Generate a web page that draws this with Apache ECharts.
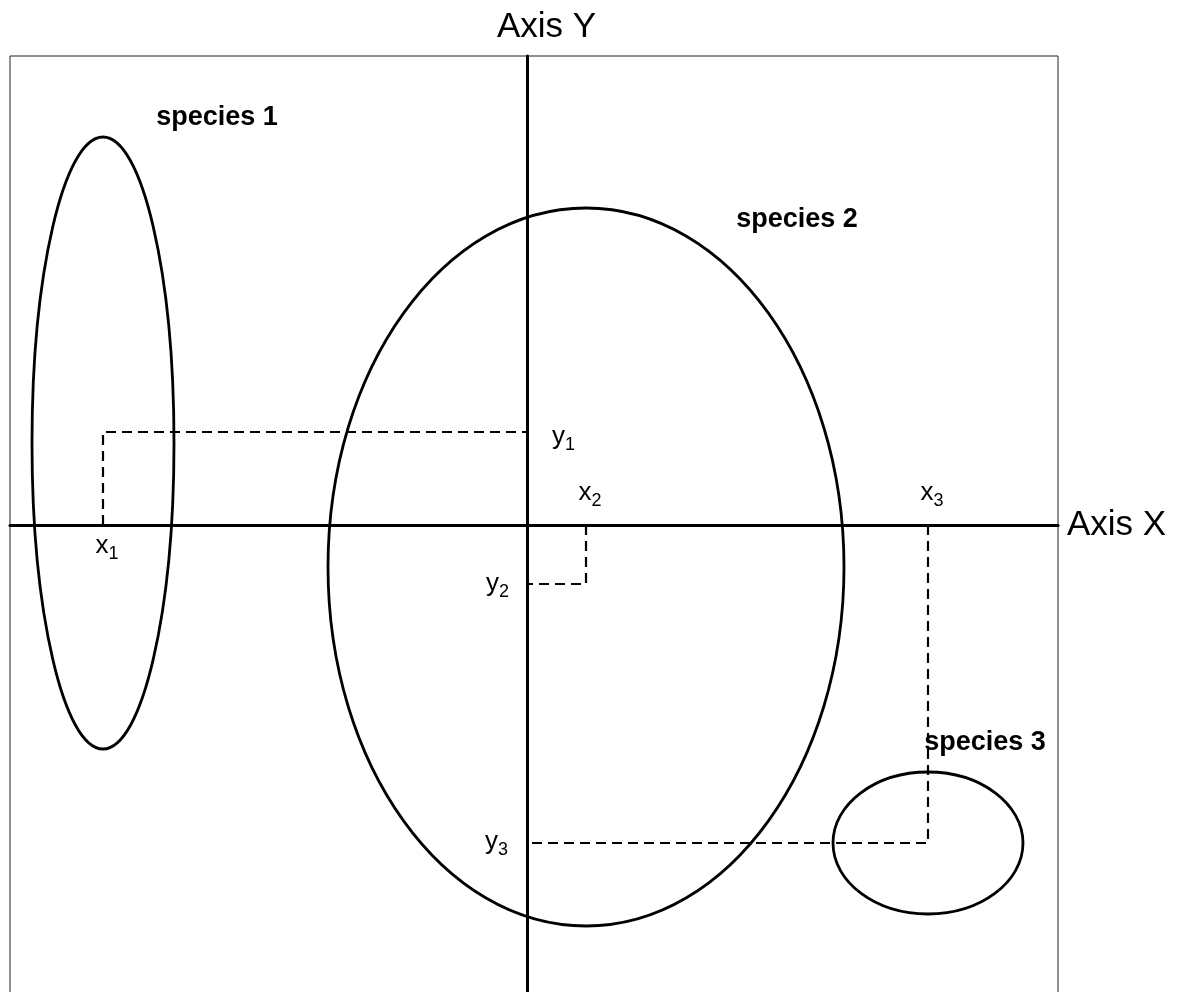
<!DOCTYPE html>
<html>
<head>
<meta charset="utf-8">
<script src="https://cdn.jsdelivr.net/npm/echarts@6/dist/echarts.min.js"></script>
<style>html,body{margin:0;padding:0;background:#fff}#main{width:1181px;height:992px}</style>
</head>
<body>
<div id="main"></div>
<script>
// species ellipses: centre and half widths, in axis units
var speciesNames=['species 1','species 2','species 3'];
var speciesCx=[-4.24,0.59,4.01];
var speciesCy=[0.82,-0.42,-3.18];
var speciesRx=[0.71,2.58,0.95];
var speciesRy=[3.06,3.59,0.71];
// where the species names are written
var nameX=[-3.10,2.70,4.58];
var nameY=[4.07,3.05,-2.18];
// projected points x_i / y_i
var pointX=[-4.24,0.59,4.01];
var pointY=[0.93,-0.59,-3.18];
var pointTags=['1','2','3'];

var font='"Liberation Sans", Arial, Helvetica, sans-serif';
var rich={
    a:{fontSize:26,lineHeight:34,fontFamily:font,fill:'#000',color:'#000'},
    s:{fontSize:18,verticalAlign:'bottom',fontFamily:font,fill:'#000',color:'#000'}
};

var myChart=echarts.init(document.getElementById('main'));

var ellipseData=speciesCx.map(function(c,i){return [c,speciesCy[i],speciesRx[i],speciesRy[i]];});
var guideData=pointX.map(function(x,i){return [x,pointY[i]];});

// tags: x_i on the horizontal axis then y_i on the vertical one
var tagData=[],tagLook=[];
pointX.forEach(function(x,i){
    tagData.push([x,0]);
    tagLook.push({text:'{a|x}{s|'+pointTags[i]+'}',dx:4,dy:i==0?4:-15,align:'center',va:i==0?'top':'bottom'});
});
var yDy=[5,0,-1],yDx=[25,-18,-19];
pointY.forEach(function(y,i){
    tagData.push([0,y]);
    tagLook.push({text:'{a|y}{s|'+pointTags[i]+'}',dx:yDx[i],dy:yDy[i],align:i==0?'left':'right',va:'middle'});
});
var nameData=speciesNames.map(function(n,i){return [nameX[i],nameY[i]];});

var option={
    animation:false,
    grid:{left:10,right:123,top:56,bottom:-4,outerBoundsMode:'none',containLabel:false,
          show:true,borderColor:'#222',borderWidth:1,backgroundColor:'transparent'},
    xAxis:{
        type:'value',min:-5.17,max:5.31,
        axisLine:{onZero:true,lineStyle:{color:'#000',width:3}},
        axisTick:{show:false},axisLabel:{show:false},splitLine:{show:false},
        name:'Axis X',nameLocation:'end',nameGap:9,
        nameTextStyle:{fontSize:35,color:'#000',fontFamily:font,padding:[0,0,10,0]}
    },
    yAxis:{
        type:'value',min:-4.71,max:4.69,
        axisLine:{onZero:true,lineStyle:{color:'#000',width:3}},
        axisTick:{show:false},axisLabel:{show:false},splitLine:{show:false},
        name:'Axis Y',nameLocation:'end',nameGap:11,
        nameTextStyle:{fontSize:35,color:'#000',fontFamily:font,padding:[0,0,0,39]}
    },
    series:[
        {
            type:'custom',silent:true,z:2,
            data:guideData,
            renderItem:function(params,api){
                var x=api.value(0),y=api.value(1);
                return {
                    type:'polyline',
                    shape:{points:[api.coord([x,0]),api.coord([x,y]),api.coord([0,y])]},
                    style:{fill:null,stroke:'#000',lineWidth:2.2,lineDash:[10,6]}
                };
            }
        },
        {
            type:'custom',silent:true,z:3,
            data:ellipseData,
            renderItem:function(params,api){
                var c=api.coord([api.value(0),api.value(1)]);
                var s=api.size([api.value(2),api.value(3)]);
                return {
                    type:'ellipse',
                    shape:{cx:c[0],cy:c[1],rx:s[0],ry:s[1]},
                    style:{fill:null,stroke:'#000',lineWidth:2.8}
                };
            }
        },
        {
            type:'custom',silent:true,z:4,
            data:tagData,
            renderItem:function(params,api){
                var p=api.coord([api.value(0),api.value(1)]);
                var t=tagLook[params.dataIndex];
                return {
                    type:'text',x:p[0]+t.dx,y:p[1]+t.dy,
                    style:{text:t.text,rich:rich,fill:'#000',align:t.align,verticalAlign:t.va}
                };
            }
        },
        {
            type:'custom',silent:true,z:5,
            data:nameData,
            renderItem:function(params,api){
                var p=api.coord([api.value(0),api.value(1)]);
                return {
                    type:'text',x:p[0],y:p[1],
                    style:{text:speciesNames[params.dataIndex],fill:'#000',align:'center',verticalAlign:'middle',
                           font:'bold 27px '+font}
                };
            }
        }
    ]
};
myChart.setOption(option);
</script>
</body>
</html>
